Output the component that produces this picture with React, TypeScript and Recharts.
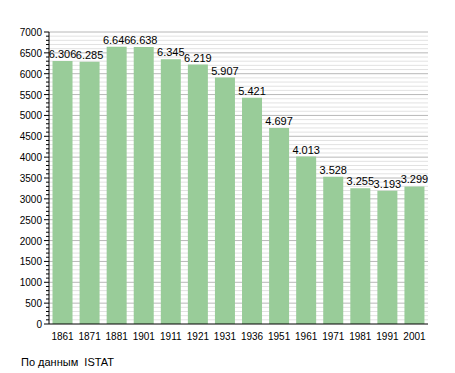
import { BarChart, Bar, XAxis, YAxis, CartesianGrid, LabelList } from 'recharts';

const years = ['1861', '1871', '1881', '1901', '1911', '1921', '1931', '1936', '1951', '1961', '1971', '1981', '1991', '2001'];
const population = [6306, 6285, 6646, 6638, 6345, 6219, 5907, 5421, 4697, 4013, 3528, 3255, 3193, 3299];
const majorTicks = [0, 500, 1000, 1500, 2000, 2500, 3000, 3500, 4000, 4500, 5000, 5500, 6000, 6500, 7000];
const allTicks = Array.from({ length: 71 }, (_, i) => i * 100);

const data = years.map((y, i) => ({ year: y, value: population[i] }));

const fmt = (v: any) => {
  const n = Number(v);
  return Math.floor(n / 1000) + '.' + String(n % 1000).padStart(3, '0');
};

const YTick = (props: any) => {
  const { x, y, payload } = props;
  const major = payload.value % 500 === 0;
  return (
    <g>
      <line x1={x - (major ? 5 : 3)} x2={x} y1={y} y2={y} stroke="#000" />
      {major && (
        <text x={x - 7} y={y} dy={4} textAnchor="end" fontSize={10} fill="#000">
          {payload.value}
        </text>
      )}
    </g>
  );
};

const App = () => {
  return (
    <div style={{ position: 'absolute', left: 0, top: 0, width: 455, height: 373, fontFamily: 'Liberation Sans, Arial, sans-serif' }}>
      <BarChart
        width={455}
        height={373}
        data={data}
        margin={{ top: 32, right: 27, left: 0, bottom: 29 }}
        barCategoryGap="13%"
      >
        <CartesianGrid
          vertical={false}
          horizontalValues={allTicks.filter((t) => t % 500 !== 0)}
          stroke="#e2e2e2"
        />
        <CartesianGrid
          vertical={false}
          horizontalValues={majorTicks.filter((t) => t > 0)}
          stroke="#b8b8b8"
        />
        <XAxis
          dataKey="year"
          tickLine={false}
          axisLine={{ stroke: '#000' }}
          tick={{ fontSize: 10, fill: '#000' }}
          height={20}
          tickMargin={3}
        />
        <YAxis
          domain={[0, 7000]}
          ticks={allTicks}
          interval={0}
          width={49}
          tickLine={false}
          tickSize={0}
          tickMargin={0}
          axisLine={{ stroke: '#000' }}
          tick={<YTick />}
        />
        <Bar dataKey="value" fill="#99cc99" isAnimationActive={false}>
          <LabelList dataKey="value" position="top" formatter={fmt} fontSize={11} fill="#000" offset={3} />
        </Bar>
      </BarChart>
      <div style={{ position: 'absolute', left: 21, top: 356, fontSize: 11, color: '#000' }}>По данным&nbsp; ISTAT</div>
    </div>
  );
};

export default App;
